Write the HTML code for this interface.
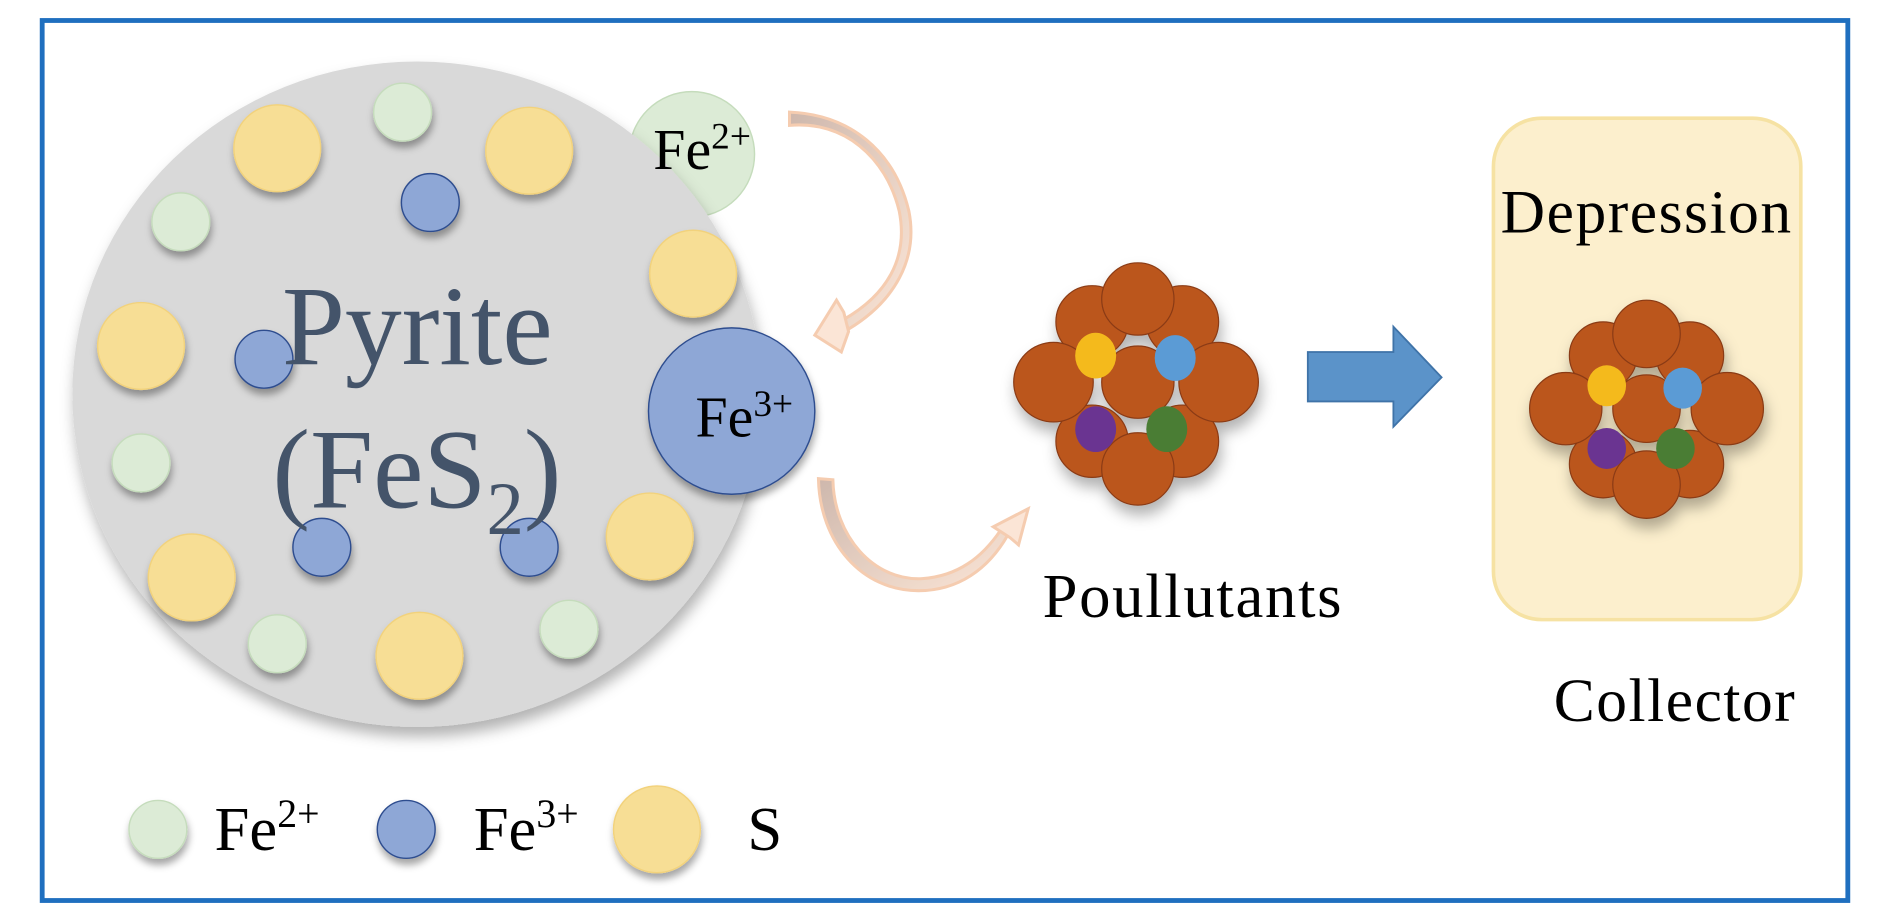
<!DOCTYPE html>
<html><head><meta charset="utf-8"><style>
html,body{margin:0;padding:0;background:#fff;}
svg{display:block;}
</style></head><body>
<svg width="1890" height="921" viewBox="0 0 1568 764" preserveAspectRatio="none" xmlns="http://www.w3.org/2000/svg">
<defs>
<filter id="sh" x="-30%" y="-30%" width="160%" height="170%"><feDropShadow dx="1" dy="5" stdDeviation="3" flood-color="#000" flood-opacity="0.35"/></filter>
<filter id="sh2" x="-20%" y="-20%" width="140%" height="150%"><feDropShadow dx="2" dy="8" stdDeviation="6" flood-color="#000" flood-opacity="0.3"/></filter>
<linearGradient id="ag" x1="0" y1="0" x2="1" y2="1"><stop offset="0" stop-color="#c9b0a4"/><stop offset="1" stop-color="#fbe3d2"/></linearGradient>
</defs>
<rect x="0" y="0" width="1568" height="764" fill="#fff"/>
<rect x="35" y="17" width="1498" height="730" fill="none" stroke="#1f6fbf" stroke-width="4"/>

<circle cx="574" cy="128" r="52" fill="#dcebd6" stroke="#c5dcbc" stroke-width="1.2"/>
<ellipse cx="346" cy="327" rx="286" ry="276" fill="#d9d9d9" filter="url(#sh2)"/>

<g filter="url(#sh)" stroke-width="1.2">
<circle cx="334" cy="93" r="24" fill="#dcebd6" stroke="#c5dcbc"/>
<circle cx="150" cy="184" r="24" fill="#dcebd6" stroke="#c5dcbc"/>
<circle cx="117" cy="384" r="24" fill="#dcebd6" stroke="#c5dcbc"/>
<circle cx="230" cy="534" r="24" fill="#dcebd6" stroke="#c5dcbc"/>
<circle cx="472" cy="522" r="24" fill="#dcebd6" stroke="#c5dcbc"/>
<circle cx="230" cy="123" r="36" fill="#f7de95" stroke="#f2d27c"/>
<circle cx="439" cy="125" r="36" fill="#f7de95" stroke="#f2d27c"/>
<circle cx="575" cy="227" r="36" fill="#f7de95" stroke="#f2d27c"/>
<circle cx="117" cy="287" r="36" fill="#f7de95" stroke="#f2d27c"/>
<circle cx="159" cy="479" r="36" fill="#f7de95" stroke="#f2d27c"/>
<circle cx="348" cy="544" r="36" fill="#f7de95" stroke="#f2d27c"/>
<circle cx="539" cy="445" r="36" fill="#f7de95" stroke="#f2d27c"/>
<circle cx="357" cy="168" r="24" fill="#8ea7d6" stroke="#2f4e8f"/>
<circle cx="219" cy="298" r="24" fill="#8ea7d6" stroke="#2f4e8f"/>
<circle cx="267" cy="454" r="24" fill="#8ea7d6" stroke="#2f4e8f"/>
<circle cx="439" cy="454" r="24" fill="#8ea7d6" stroke="#2f4e8f"/>
<circle cx="607" cy="341" r="69" fill="#8ea7d6" stroke="#2f4e8f"/>
</g>

<g font-family="'Liberation Serif',serif" fill="#44546a">
<text x="234" y="302" font-size="94">Pyrite</text>
<text x="226" y="421" font-size="94">(FeS<tspan font-size="62" dy="22">2</tspan><tspan dy="-22">)</tspan></text>
</g>
<g font-family="'Liberation Serif',serif" fill="#000">
<text x="542" y="140" font-size="48">Fe<tspan font-size="31" dy="-17">2+</tspan></text>
<text x="577" y="362" font-size="48">Fe<tspan font-size="31" dy="-17">3+</tspan></text>
</g>

<g opacity="0.9">
<path d="M655,104 C700,100 735,130 746,175 C754,215 735,245 700,265 L704,273 C742,250 762,215 754,175 C742,125 705,95 655,93 Z" fill="url(#ag)" stroke="#f4c7a8" stroke-width="2.5"/>
<path d="M700,259 L694,249 L676,278 L698,292 L704,275 Z" fill="#fbe3d2" stroke="#f4c7a8" stroke-width="2.5"/>
<path d="M679,397 L691,398 C692,445 725,482 765,480 C795,478 815,462 830,440 L836,444 C820,472 795,490 762,490 C715,490 680,450 679,397 Z" fill="url(#ag)" stroke="#f4c7a8" stroke-width="2.5"/>
<path d="M824,437 L853,422 L845,452 L838,446 Z" fill="#fbe3d2" stroke="#f4c7a8" stroke-width="2.5"/>
</g>

<g filter="url(#sh2)" fill="#bb561f" stroke="#8a3a12" stroke-width="1">
<circle cx="906" cy="267" r="30"/><circle cx="981" cy="267" r="30"/>
<circle cx="906" cy="366" r="30"/><circle cx="981" cy="366" r="30"/>
<circle cx="874" cy="317" r="33"/><circle cx="1011" cy="317" r="33"/>
<circle cx="944" cy="317" r="30"/>
<circle cx="944" cy="248" r="30"/><circle cx="944" cy="389" r="30"/>
</g>
<ellipse cx="909" cy="295" rx="17" ry="19" fill="#f4ba1c"/>
<ellipse cx="975" cy="297" rx="17" ry="19" fill="#5b9bd5"/>
<ellipse cx="909" cy="356" rx="17" ry="19" fill="#6a3491"/>
<ellipse cx="968" cy="356" rx="17" ry="19" fill="#4a7d34"/>
<text x="865" y="512" font-family="'Liberation Serif',serif" font-size="52" textLength="248" fill="#000">Poullutants</text>

<path d="M1085,292 L1156,292 L1156,271 L1196,313 L1156,354 L1156,333 L1085,333 Z" fill="#5b93c9" stroke="#3f73a8" stroke-width="1.5"/>

<rect x="1239" y="98" width="255" height="416" rx="40" fill="#fcefcd" stroke="#f6e2a3" stroke-width="3"/>
<text x="1245" y="193" font-family="'Liberation Serif',serif" font-size="51" textLength="241" fill="#000">Depression</text>
<g filter="url(#sh2)" fill="#bb561f" stroke="#8a3a12" stroke-width="1">
<circle cx="1330" cy="295" r="28"/><circle cx="1402" cy="295" r="28"/>
<circle cx="1330" cy="385" r="28"/><circle cx="1402" cy="385" r="28"/>
<circle cx="1299" cy="339" r="30"/><circle cx="1433" cy="339" r="30"/>
<circle cx="1366" cy="339" r="28"/>
<circle cx="1366" cy="277" r="28"/><circle cx="1366" cy="402" r="28"/>
</g>
<ellipse cx="1333" cy="320" rx="16" ry="17" fill="#f4ba1c"/>
<ellipse cx="1396" cy="322" rx="16" ry="17" fill="#5b9bd5"/>
<ellipse cx="1333" cy="372" rx="16" ry="17" fill="#6a3491"/>
<ellipse cx="1390" cy="372" rx="16" ry="17" fill="#4a7d34"/>
<text x="1289" y="598" font-family="'Liberation Serif',serif" font-size="51" textLength="200" fill="#000">Collector</text>

<g filter="url(#sh)" stroke-width="1.2">
<circle cx="131" cy="688" r="24" fill="#dcebd6" stroke="#c5dcbc"/>
<circle cx="337" cy="688" r="24" fill="#8ea7d6" stroke="#2f4e8f"/>
<circle cx="545" cy="688" r="36" fill="#f7de95" stroke="#f2d27c"/>
</g>
<g font-family="'Liberation Serif',serif" fill="#000" font-size="52">
<text x="178" y="705">Fe<tspan font-size="33" dy="-19">2+</tspan></text>
<text x="393" y="705">Fe<tspan font-size="33" dy="-19">3+</tspan></text>
<text x="620" y="705">S</text>
</g>
</svg>
</body></html>
